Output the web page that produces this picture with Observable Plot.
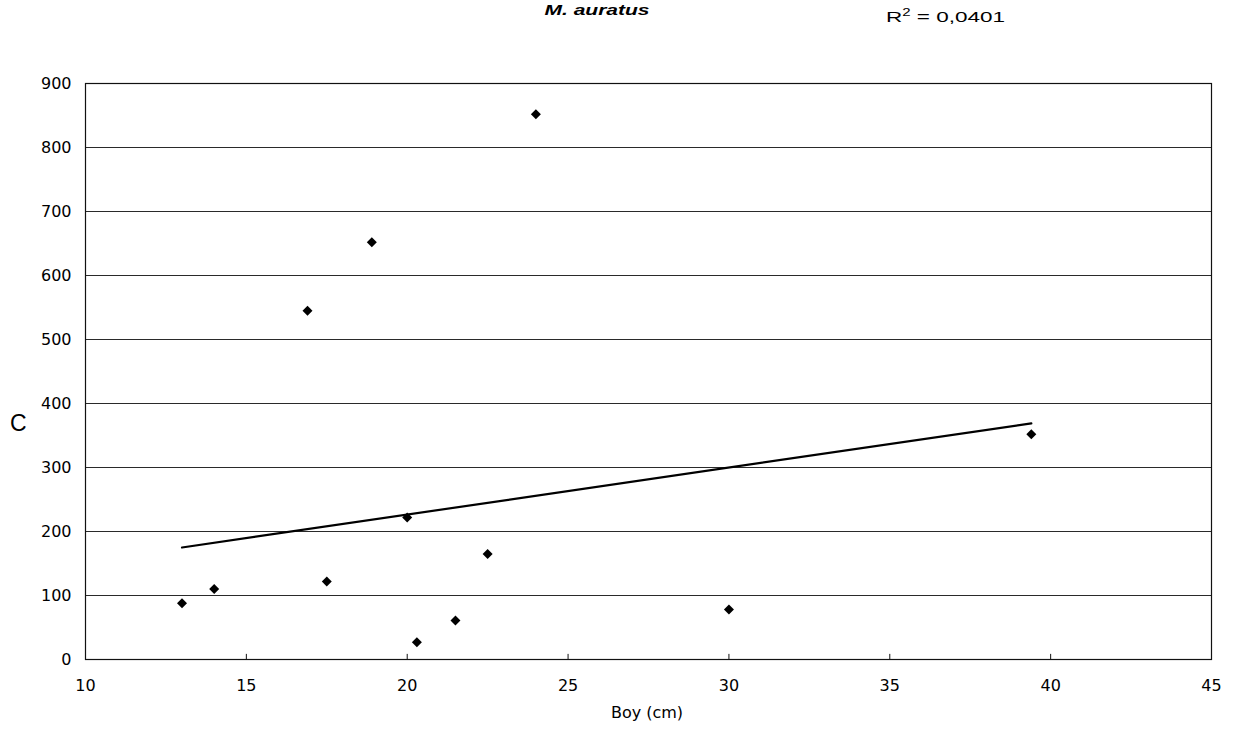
<!DOCTYPE html>
<html><head><meta charset="utf-8">
<script src="https://cdn.jsdelivr.net/npm/d3@7"></script>
<script src="https://cdn.jsdelivr.net/npm/@observablehq/plot@0.6"></script>
<style>
body{margin:0;background:#fff;font-family:"Liberation Sans",Arial,sans-serif}
#wrap{position:relative;width:1249px;height:733px}
.t{position:absolute;white-space:nowrap;color:#000;line-height:normal}
</style></head>
<body><div id="wrap"></div>
<script>
const lengthCm = [13, 14, 16.9, 17.5, 18.9, 20.0, 20.3, 21.5, 22.5, 24.0, 30.0, 39.4];
const cValues  = [88, 110, 545, 122, 652, 222, 27, 61, 165, 852, 78, 352];
const trendX = [13, 39.4];
const trendY = [175, 369];
const xTicks = [10, 15, 20, 25, 30, 35, 40, 45];
const yTicks = [0, 100, 200, 300, 400, 500, 600, 700, 800, 900];
const titleText = "M. auratus";
const r2Label = "0,0401";

const points = lengthCm.map((x, i) => ({x, y: cValues[i]}));
const trend = trendX.map((x, i) => ({x, y: trendY[i]}));

const chart = Plot.plot({
  width: 1249,
  height: 733,
  marginTop: 83,
  marginLeft: 85,
  marginRight: 38,
  marginBottom: 74,
  style: {fontFamily: '"DejaVu Sans", sans-serif', fontSize: "16px", background: "#fff", color: "#000"},
  x: {domain: [10, 45], ticks: xTicks, label: null},
  y: {domain: [0, 900], ticks: yTicks, label: null},
  marks: [
    Plot.ruleY(yTicks, {stroke: "#2a2a2a", strokeWidth: 1}),
    Plot.frame({stroke: "#111", strokeWidth: 1.2}),
    Plot.ruleX(xTicks.slice(1, -1), {x: d => d, y1: 0, y2: 8, stroke: "#111"}),
    Plot.axisX({ticks: xTicks, tickSize: 0, tickPadding: 20, fontSize: 16, label: null}),
    Plot.axisY({ticks: yTicks, tickSize: 0, tickPadding: 14, fontSize: 16, label: null}),
    Plot.line(trend, {x: "x", y: "y", stroke: "#000", strokeWidth: 2.2}),
    Plot.dot(points, {x: "x", y: "y", symbol: "diamond2", r: 4.5, fill: "#000", stroke: "none"})
  ]
});
const wrap = document.getElementById("wrap");
wrap.appendChild(chart);

function addText(html, css) {
  const d = document.createElement("div");
  d.className = "t";
  d.innerHTML = html;
  Object.assign(d.style, css);
  wrap.appendChild(d);
  return d;
}
addText(titleText, {left: "597px", top: "1px", transform: "translateX(-50%) scaleX(1.4)", fontStyle: "italic", fontWeight: "bold", fontSize: "15px"});
addText("R<sup style='font-size:10px;vertical-align:6px;line-height:0'>2</sup> = " + r2Label, {left: "886px", top: "8px", transformOrigin: "left center", transform: "scaleX(1.5)", fontSize: "15px"});
addText("C", {left: "10px", top: "410px", fontSize: "23px"});
addText("Boy (cm)", {left: "647px", top: "703px", transform: "translateX(-50%)", fontSize: "16px", fontFamily: '"DejaVu Sans", sans-serif'});
</script>
</body></html>
